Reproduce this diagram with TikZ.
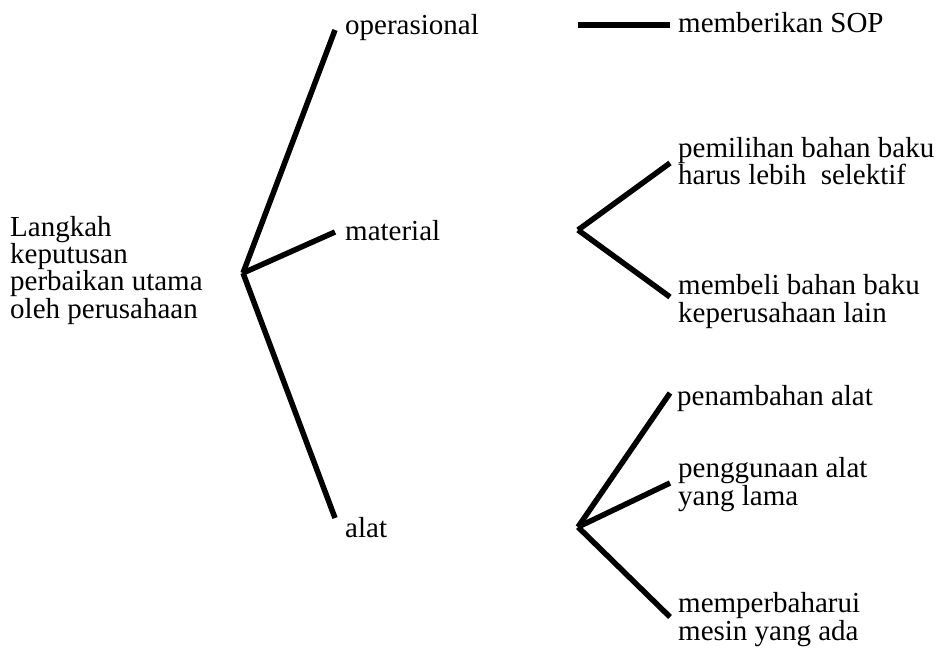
\documentclass[tikz,border=0pt]{standalone}
\usepackage{fontspec}
\setmainfont{Liberation Serif}
\begin{document}
\begin{tikzpicture}[x=1pt,y=-1pt,lbl/.style={anchor=base west,inner sep=0pt,align=left,font=\fontsize{29}{27.5}\selectfont},lblR/.style={lbl,font=\fontsize{29}{26.2}\selectfont},branch/.style={line width=5.5pt}]
\def\xr{243};
\def\xa{335};
\def\xla{345};
\def\xb{578};
\def\xc{670};
\def\xlb{678};

\useasboundingbox (0,0) rectangle (940,650);

% multi-line labels sit on their last baseline
\node[lblR] (L) at (10,318) {Langkah\\keputusan\\perbaikan utama\\oleh perusahaan};
\coordinate (R) at (\xr,273);

\node[lbl] (op) at (\xla,35) {operasional};
\coordinate (opE) at (\xa,30);
\draw[branch] (R) -- (opE);
\node[lbl] (mat) at (\xla,240) {material};
\coordinate (matE) at (\xa,232);
\draw[branch] (R) -- (matE);
\node[lbl] (alat) at (\xla,537) {alat};
\coordinate (alatE) at (\xa,518);
\draw[branch] (R) -- (alatE);

\coordinate (opJ) at (\xb,25);
\node[lbl] (sop) at (\xlb,33) {memberikan SOP};
\coordinate (sopE) at (\xc,25);
\draw[branch] (opJ) -- (sopE);

\coordinate (matJ) at (\xb,230);
\node[lbl] (pil) at (\xlb,185) {pemilihan bahan baku\\harus lebih \ selektif};
\coordinate (pilE) at (\xc,163);
\draw[branch] (matJ) -- (pilE);
\node[lbl] (beli) at (\xlb,322) {membeli bahan baku\\keperusahaan lain};
\coordinate (beliE) at (\xc,297);
\draw[branch] (matJ) -- (beliE);

\coordinate (alatJ) at (\xb,527);
\node[lbl] (tam) at (677,405) {penambahan alat};
\coordinate (tamE) at (\xc,393);
\draw[branch] (alatJ) -- (tamE);
\node[lbl] (guna) at (\xlb,505) {penggunaan alat\\yang lama};
\coordinate (gunaE) at (\xc,483);
\draw[branch] (alatJ) -- (gunaE);
\node[lbl] (baru) at (\xlb,640) {memperbaharui\\mesin yang ada};
\coordinate (baruE) at (\xc,617);
\draw[branch] (alatJ) -- (baruE);
\end{tikzpicture}
\end{document}
